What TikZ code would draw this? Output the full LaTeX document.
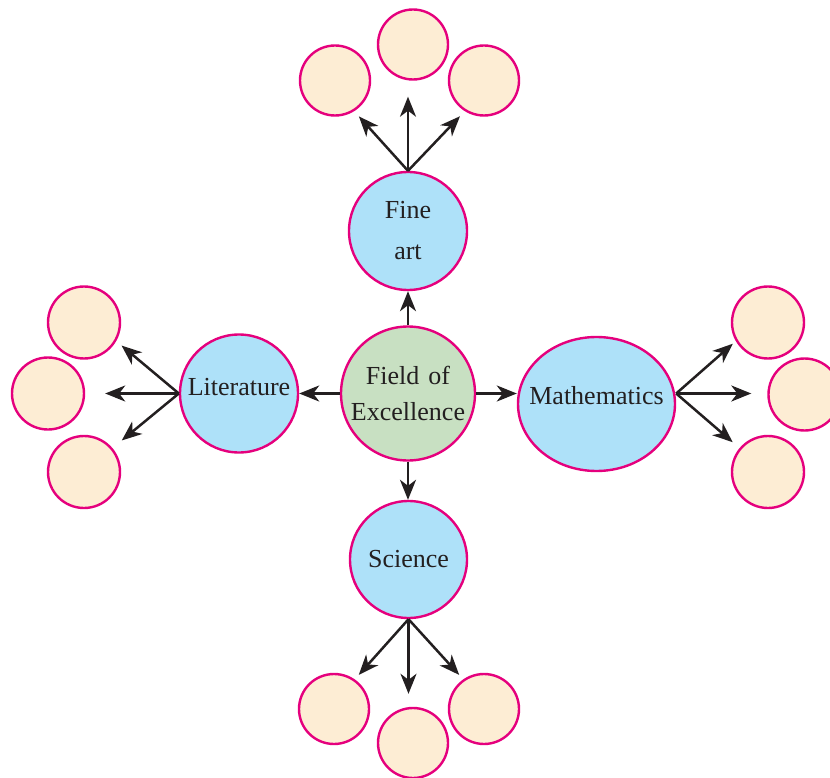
\documentclass[tikz,border=0pt]{standalone}
\usepackage{fontspec}
\setmainfont{Liberation Serif}
\usetikzlibrary{arrows.meta,shapes.geometric}
\definecolor{rim}{HTML}{E5007D}
\definecolor{skyfill}{HTML}{AEE1F9}
\definecolor{greenfill}{HTML}{C8E0C2}
\definecolor{peach}{HTML}{FDEDD4}
\definecolor{ink}{HTML}{231F20}
\tikzset{
  topic/.style={circle,draw=rim,line width=2.4pt,fill=skyfill,inner sep=0pt,
    font=\fontsize{26}{36}\selectfont,text=ink,align=center},
  hub/.style={circle,draw=rim,line width=2.4pt,fill=greenfill,inner sep=0pt,
    minimum size=134pt,font=\fontsize{26}{36}\selectfont,text=ink,align=center},
  leaf/.style={circle,draw=rim,line width=2.4pt,fill=peach,inner sep=0pt,minimum size=70pt},
  arr/.style={draw=ink,line width=2.5pt,-{Stealth[length=20pt,width=16pt,inset=6pt]}}
}
\begin{document}
\begin{tikzpicture}[x=1pt,y=-1pt]
\useasboundingbox (0,0) rectangle (830,778);
\clip (0,0) rectangle (830,778);
% central and topic nodes
\node[hub] (hub) at (408,393.5) {Field\hspace{9pt}of\\Excellence};
\node[topic,minimum size=118pt] (fine) at (408,231) {Fine\\[5pt]art};
\node[topic,minimum size=118pt] (lit) at (239,393.5) {};
\node[font=\fontsize{26}{36}\selectfont,text=ink] (littext) at (239,387) {Literature};
\node[topic,ellipse,minimum width=157pt,minimum height=134pt] (math) at (596.5,404) {};
\node[font=\fontsize{26}{36}\selectfont,text=ink] (mathtext) at (596.5,396) {Mathematics};
\node[topic,minimum size=117pt] (sci) at (408.5,559.5) {Science};
% leaves top
\node[leaf] (t1) at (335,80.5) {};
\node[leaf] (t2) at (413,44.5) {};
\node[leaf] (t3) at (484,80.5) {};
% leaves left
\node[leaf,minimum size=72pt] (l1) at (84,322.5) {};
\node[leaf,minimum size=72pt] (l2) at (48,393.5) {};
\node[leaf,minimum size=72pt] (l3) at (84,472) {};
% leaves right
\node[leaf,minimum size=72pt] (r1) at (768,322.5) {};
\node[leaf,minimum size=72pt] (r2) at (804.5,394.5) {};
\node[leaf,minimum size=72pt] (r3) at (768,472) {};
% leaves bottom
\node[leaf] (b1) at (334,709) {};
\node[leaf] (b2) at (413,743) {};
\node[leaf] (b3) at (484,709) {};
% hub arrows
\draw[arr] (hub.north) -- (fine.south);
\draw[arr] (hub.west) -- (lit.east);
\draw[arr] (hub.east) -- (hub.east -| math.west);
\draw[arr] (hub.south) -- (hub.south |- sci.north);
% fine art arrows
\draw[arr,shorten >=7pt] (fine.north) -- (t1.-58);
\draw[arr,shorten >=16pt] (fine.north) -- (fine.north |- t2.south);
\draw[arr,shorten >=7pt] (fine.north) -- (t3.-122);
% literature arrows
\draw[arr,shorten >=7pt] (lit.west) -- (l1.-30);
\draw[arr,shorten >=20pt] (lit.west) -- (l2.east);
\draw[arr,shorten >=12pt] (lit.west) -- (l3.40);
% mathematics arrows
\draw[arr,shorten >=4pt] (math.east |- lit.west) -- (r1.-150);
\draw[arr,shorten >=16pt] (math.east |- lit.west) -- (r2.west |- lit.west);
\draw[arr,shorten >=9pt] (math.east |- lit.west) -- (r3.140);
% science arrows
\draw[arr,shorten >=6pt] (sci.south) -- (b1.55);
\draw[arr,shorten >=13pt] (sci.south) -- (sci.south |- b2.north);
\draw[arr,shorten >=6pt] (sci.south) -- (b3.125);
\end{tikzpicture}
\end{document}
